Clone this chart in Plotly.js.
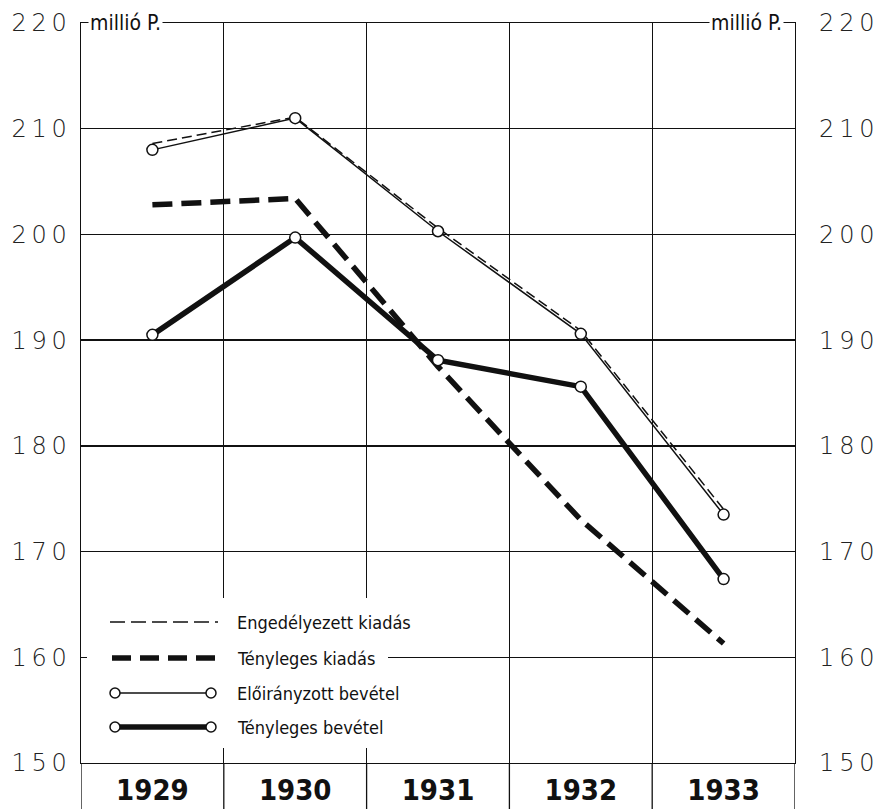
<!DOCTYPE html>
<html>
<head>
<meta charset="utf-8">
<script src="https://cdn.plot.ly/plotly-3.0.1.min.js"></script>
<style>html,body{margin:0;padding:0;background:#fff;}#chart{width:877px;height:809px;}</style>
</head>
<body>
<div id="chart"></div>
<script>
// ---- data ----
const years = ["1929", "1930", "1931", "1932", "1933"];
const engedelyezettKiadas = [208.6, 211.1, 200.6, 190.9, 174.0];
const tenylegesKiadas = [202.8, 203.4, 187.5, 173.0, 161.3];
const eloiranyzottBevetel = [208.0, 211.0, 200.3, 190.6, 173.5];
const tenylegesBevetel = [190.5, 199.7, 188.1, 185.6, 167.4];
const seriesNames = ["Engedélyezett kiadás", "Tényleges kiadás", "Előirányzott bevétel", "Tényleges bevétel"];
const yTickVals = [150, 160, 170, 180, 190, 200, 210, 220];
const yTickText = ["1\u20095\u20090", "1\u20096\u20090", "1\u20097\u20090", "1\u20098\u20090", "1\u20099\u20090", "2\u20090\u20090", "2\u20091\u20090", "2\u20092\u20090"];
const unitLabel = "millió P.";

// ---- geometry ----
const W = 877, H = 809;
const M = {l: 81, r: 82, t: 23, b: 46};
const pw = W - M.l - M.r, ph = H - M.t - M.b;
const px = x => (x - M.l) / pw;
const py = y => (H - M.b - y) / ph;

const condensed = "'Liberation Sans Narrow', 'DejaVu Sans Condensed', 'Roboto Condensed', sans-serif";
const wide = "'DejaVu Sans', 'Verdana', sans-serif";

const traces = [
  {x: years, y: engedelyezettKiadas, name: seriesNames[0], mode: "lines",
   line: {color: "#111", width: 1.5, dash: "10px,5px"}},
  {x: years, y: tenylegesKiadas, name: seriesNames[1], mode: "lines",
   line: {color: "#111", width: 5.5, dash: "20px,9px"}},
  {x: years, y: eloiranyzottBevetel, name: seriesNames[2], mode: "lines+markers",
   line: {color: "#111", width: 1.5},
   marker: {symbol: "circle", size: 11, color: "#fff", line: {color: "#111", width: 1.5}}},
  {x: years, y: tenylegesBevetel, name: seriesNames[3], mode: "lines+markers",
   line: {color: "#111", width: 5.5},
   marker: {symbol: "circle", size: 11, color: "#fff", line: {color: "#111", width: 1.5}}},
  {x: [], y: [], yaxis: "y2", showlegend: false, hoverinfo: "skip"}
];

const shapes = [];
// boundary lines extending below the plot
for (let i = 0; i <= years.length; i++) {
  shapes.push({type: "line", xref: "x", yref: "paper", x0: i - 0.5, x1: i - 0.5, y0: 0, y1: -M.b / ph,
    line: {color: "#111", width: 1.3}});
}
// legend background
shapes.push({type: "rect", xref: "paper", yref: "paper", x0: px(87), x1: px(388), y0: py(748), y1: py(598),
  fillcolor: "#fff", line: {width: 0}, layer: "above"});
// legend samples
shapes.push({type: "line", xref: "paper", yref: "paper", x0: px(110), x1: px(218), y0: py(622), y1: py(622),
  line: {color: "#111", width: 1.5, dash: "15px,6px"}, layer: "above"});
shapes.push({type: "line", xref: "paper", yref: "paper", x0: px(112), x1: px(218), y0: py(658), y1: py(658),
  line: {color: "#111", width: 5.5, dash: "19px,9px"}, layer: "above"});
shapes.push({type: "line", xref: "paper", yref: "paper", x0: px(115), x1: px(211), y0: py(693), y1: py(693),
  line: {color: "#111", width: 1.5}, layer: "above"});
shapes.push({type: "line", xref: "paper", yref: "paper", x0: px(115), x1: px(211), y0: py(727), y1: py(727),
  line: {color: "#111", width: 5.5}, layer: "above"});
[[115, 693], [211, 693], [115, 727], [211, 727]].forEach(([cx, cy]) => {
  shapes.push({type: "circle", xref: "paper", yref: "paper", xsizemode: "pixel", ysizemode: "pixel",
    xanchor: px(cx), yanchor: py(cy), x0: -5, x1: 5, y0: -5, y1: 5,
    fillcolor: "#fff", line: {color: "#111", width: 1.5}, layer: "above"});
});

const legendY = [622, 658, 693, 727];
const annotations = seriesNames.map((n, i) => ({
  xref: "paper", yref: "paper", x: px(236), y: py(legendY[i]), xanchor: "left", yanchor: "middle",
  text: n, showarrow: false, font: {family: condensed, size: 18, color: "#111"}, bgcolor: "#fff", borderpad: 0
}));
annotations.push({xref: "paper", yref: "paper", x: px(88), y: 1, xanchor: "left", yanchor: "middle",
  text: unitLabel, showarrow: false, font: {family: condensed, size: 21, color: "#111"}, bgcolor: "#fff", borderpad: 1});
annotations.push({xref: "paper", yref: "paper", x: px(784), y: 1, xanchor: "right", yanchor: "middle",
  text: unitLabel, showarrow: false, font: {family: condensed, size: 21, color: "#111"}, bgcolor: "#fff", borderpad: 1});

const layout = {
  width: W, height: H,
  margin: M,
  paper_bgcolor: "#fff", plot_bgcolor: "#fff",
  showlegend: false,
  xaxis: {type: "category", tickson: "boundaries", showgrid: true, gridcolor: "#111", gridwidth: 1.3,
    showline: true, linecolor: "#111", linewidth: 1.3, mirror: true, ticks: "", ticklabelstandoff: 1,
    tickfont: {family: condensed, size: 29, color: "#111", weight: "bold"}, range: [-0.5, years.length - 0.5],
    fixedrange: true},
  yaxis: {range: [150, 220], tickvals: yTickVals, ticktext: yTickText, showgrid: true, gridcolor: "#111",
    gridwidth: 1.3, showline: true, linecolor: "#111", linewidth: 1.3, ticks: "", zeroline: false,
    tickfont: {family: wide, size: 24, color: "#222", weight: 200}, ticklabelstandoff: 8},
  yaxis2: {range: [150, 220], overlaying: "y", side: "right", tickvals: yTickVals, ticktext: yTickText,
    showgrid: false, showline: true, linecolor: "#111", linewidth: 1.3, ticks: "", zeroline: false,
    tickfont: {family: wide, size: 24, color: "#222", weight: 200}, ticklabelstandoff: 18},
  shapes: shapes,
  annotations: annotations
};

Plotly.newPlot("chart", traces, layout, {displayModeBar: false, staticPlot: true});
</script>
</body>
</html>
